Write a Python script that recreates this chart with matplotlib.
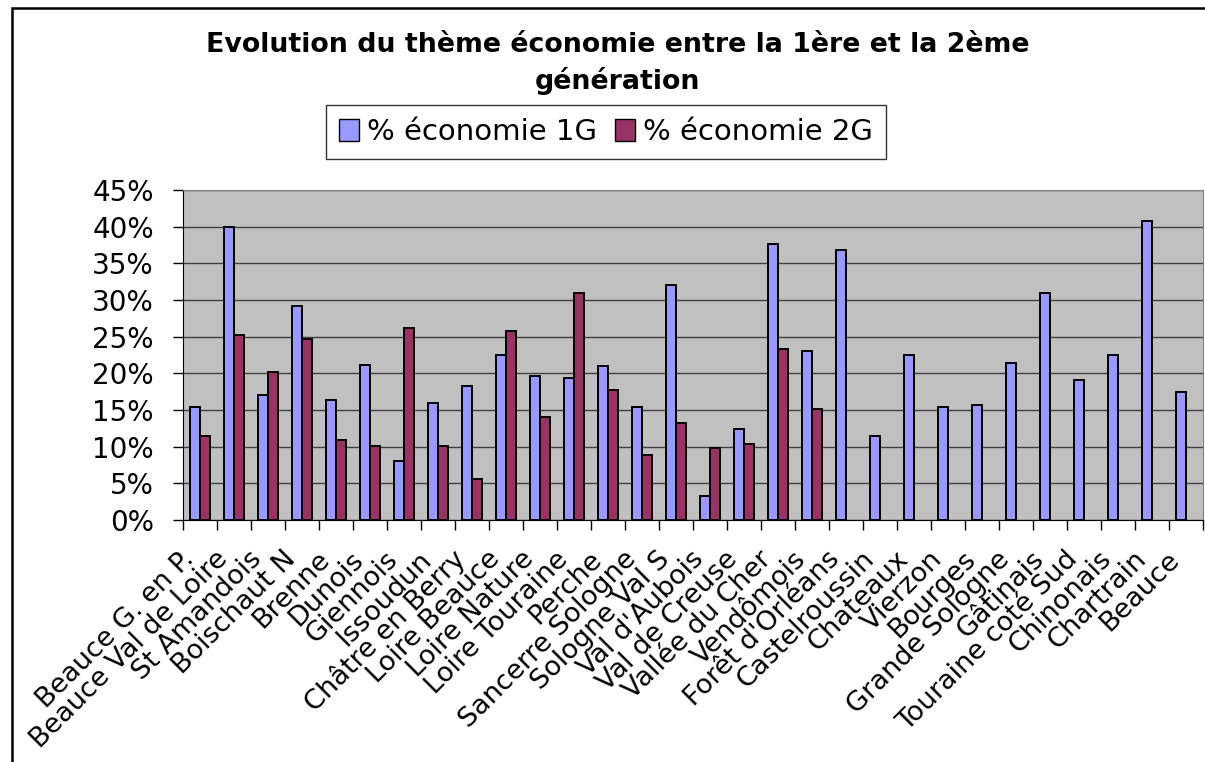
import numpy as np
import matplotlib.pyplot as plt
from matplotlib.patches import Rectangle, Patch
from matplotlib.transforms import ScaledTranslation

# Data
regions = ["Beauce G. en P.", "Beauce Val de Loire", "St Amandois", "Boischaut N",
           "Brenne", "Dunois", "Giennois", "Issoudun", "Châtre en Berry",
           "Loire Beauce", "Loire Nature", "Loire Touraine", "Perche",
           "Sancerre Sologne", "Sologne Val S", "Val d'Aubois", "Val de Creuse",
           "Vallée du Cher", "Vendômois", "Forêt d'Orléans", "Castelroussin",
           "Chateaux", "Vierzon", "Bourges", "Grande Sologne", "Gâtinais",
           "Touraine coté Sud", "Chinonais", "Chartrain", "Beauce"]
eco_1g = [15.4, 39.9, 17.1, 29.2, 16.3, 21.1, 8.1, 16.0, 18.3, 22.5,
          19.6, 19.4, 21.0, 15.4, 32.0, 3.3, 12.4, 37.7, 23.0, 36.8,
          11.5, 22.5, 15.4, 15.7, 21.4, 30.9, 19.1, 22.5, 40.8, 17.4]
eco_2g = [11.5, 25.2, 20.2, 24.7, 10.9, 10.1, 26.2, 10.1, 5.6, 25.8,
          14.0, 30.9, 17.7, 8.9, 13.2, 9.8, 10.4, 23.3, 15.2, np.nan,
          np.nan, np.nan, np.nan, np.nan, np.nan, np.nan, np.nan, np.nan, np.nan, np.nan]
yticks = [0, 5, 10, 15, 20, 25, 30, 35, 40, 45]
series_names = ["% économie 1G", "% économie 2G"]

W, H = 1205, 762
fig = plt.figure(figsize=(W / 100, H / 100), dpi=100)
ax = fig.add_axes([183 / W, 1 - 520 / H, (1203 - 183) / W, (520 - 190) / H])

# chart frame (cropped on the right and bottom)
fig.patches.append(Rectangle((12 / W, -0.1), 1.2, 1 - 8 / H + 0.1, transform=fig.transFigure,
                             fill=False, edgecolor='black', linewidth=1.8))

x = np.arange(len(regions))
bw = 0.29
ax.bar(x - bw / 2, np.array(eco_1g) / 100, bw, color='#9999FF', edgecolor='black', linewidth=1.4, zorder=3)
ax.bar(x + bw / 2, np.array(eco_2g) / 100, bw, color='#993366', edgecolor='black', linewidth=1.4, zorder=3)

ax.set_facecolor('#C0C0C0')
ax.set_xlim(-0.5, len(regions) - 0.5)
ax.set_ylim(0, 0.45)
ax.set_yticks([v / 100 for v in yticks])
ax.set_yticklabels([f"{v}%" for v in yticks], fontsize=20)
ax.yaxis.grid(True, color='#404040', linewidth=1.0, zorder=1)
ax.set_axisbelow(True)

# category boundaries carry the tick marks, centres carry the labels
ax.set_xticks(np.arange(len(regions) + 1) - 0.5)
ax.set_xticklabels([])
ax.set_xticks(x, minor=True)
ax.set_xticklabels(regions, minor=True, rotation=45, ha='right', va='baseline',
                   rotation_mode='anchor', fontsize=19.5)
ax.tick_params(axis='x', which='minor', length=0, pad=29)
ax.tick_params(axis='x', which='major', length=7, width=1, direction='out')
ax.tick_params(axis='y', length=7, width=1, direction='out', pad=14)
shift = ScaledTranslation(-5 / 100, 0, fig.dpi_scale_trans)
for lab in ax.get_xticklabels(minor=True):
    lab.set_transform(lab.get_transform() + shift)

for s in ['top', 'right']:
    ax.spines[s].set_color('#808080')
for s in ['left', 'bottom']:
    ax.spines[s].set_color('black')

fig.text(618 / W, 1 - 52 / H, "Evolution du thème économie entre la 1ère et la 2ème",
         ha='center', va='baseline', fontsize=19.3, fontweight='bold')
fig.text(618 / W, 1 - 89 / H, "génération",
         ha='center', va='baseline', fontsize=19.3, fontweight='bold')

handles = [Patch(facecolor='#9999FF', edgecolor='black'), Patch(facecolor='#993366', edgecolor='black')]
leg = fig.legend(handles, series_names, loc='center', bbox_to_anchor=(606 / W, 1 - 132 / H),
                 ncol=2, fontsize=21, frameon=True, fancybox=False, handlelength=0.68,
                 handleheight=0.75, handletextpad=0.3, columnspacing=0.6, borderpad=0.45,
                 borderaxespad=0)
leg.get_frame().set_edgecolor('black')
leg.get_frame().set_linewidth(1)

fig.savefig('out.png', dpi=100)
